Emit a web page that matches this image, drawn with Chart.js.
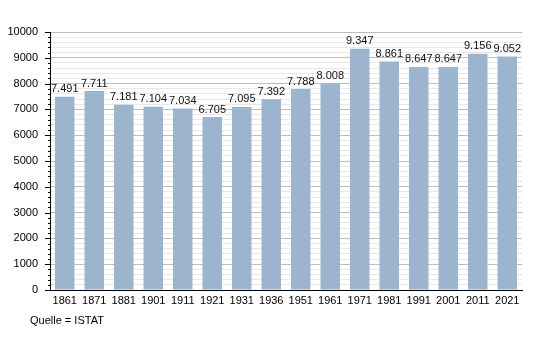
<!DOCTYPE html>
<html>
<head>
<meta charset="utf-8">
<script src="https://cdn.jsdelivr.net/npm/chart.js@4/dist/chart.umd.min.js"></script>
<style>
  html, body { margin: 0; padding: 0; background: #fff; }
  #wrap { position: relative; width: 550px; height: 340px; }
  #source { position: absolute; left: 30px; top: 314px; font: 11px "Liberation Sans", Arial, sans-serif; color: #000; }
</style>
</head>
<body>
<div id="wrap">
  <canvas id="c" width="550" height="340"></canvas>
  <div id="source">Quelle = ISTAT</div>
</div>
<script>
// Census years and resident population
const years = ['1861', '1871', '1881', '1901', '1911', '1921', '1931', '1936', '1951', '1961', '1971', '1981', '1991', '2001', '2011', '2021'];
const population = [7491, 7711, 7181, 7104, 7034, 6705, 7095, 7392, 7788, 8008, 9347, 8861, 8647, 8647, 9156, 9052];
const yMax = 10000;
const majorStep = 1000;
const minorStep = 200;

const FONT = '"Liberation Sans", Arial, sans-serif';

const fmt = v => v.toLocaleString('de-DE');

// value labels above each bar
const valueLabels = {
  id: 'valueLabels',
  afterDatasetsDraw(chart) {
    const ctx = chart.ctx;
    const meta = chart.getDatasetMeta(0);
    ctx.save();
    ctx.font = '11px ' + FONT;
    ctx.fillStyle = '#111';
    ctx.textAlign = 'center';
    ctx.textBaseline = 'bottom';
    meta.data.forEach((bar, i) => {
      ctx.fillText(fmt(chart.data.datasets[0].data[i]), bar.x, bar.y - 2);
    });
    ctx.restore();
  }
};

// long tick marks for major steps, short ones for minor steps
const yTickMarks = {
  id: 'yTickMarks',
  afterDraw(chart) {
    const ctx = chart.ctx;
    const y = chart.scales.y;
    const x0 = chart.chartArea.left;
    ctx.save();
    ctx.strokeStyle = '#000';
    ctx.lineWidth = 1;
    y.ticks.forEach(t => {
      const py = Math.round(y.getPixelForValue(t.value)) + 0.5;
      const len = t.value % majorStep === 0 ? 5 : 2;
      ctx.beginPath();
      ctx.moveTo(x0 - len, py);
      ctx.lineTo(x0, py);
      ctx.stroke();
    });
    ctx.restore();
  }
};

new Chart(document.getElementById('c'), {
  type: 'bar',
  data: {
    labels: years,
    datasets: [{
      data: population,
      backgroundColor: '#9cb4cd',
      borderWidth: 0,
      barPercentage: 0.66,
      categoryPercentage: 1
    }]
  },
  options: {
    responsive: false,
    animation: false,
    events: [],
    layout: { padding: { left: 0, right: 28, top: 32, bottom: 0 } },
    plugins: {
      legend: { display: false },
      tooltip: { enabled: false }
    },
    scales: {
      x: {
        grid: { display: false, drawTicks: false },
        border: { color: '#000', width: 1 },
        ticks: { color: '#000', font: { family: FONT, size: 11 }, padding: 4, maxRotation: 0, autoSkip: false },
        afterFit(scale) { scale.height = 50; }
      },
      y: {
        min: 0,
        max: yMax,
        grid: {
          drawTicks: false,
          color: c => (c.tick && c.tick.value % majorStep === 0) ? '#bdbdbd' : '#e8e8e8',
          lineWidth: 1
        },
        border: { color: '#000', width: 1 },
        ticks: {
          stepSize: minorStep,
          autoSkip: false,
          color: '#000',
          font: { family: FONT, size: 11 },
          padding: 12,
          callback: v => (v % majorStep === 0 ? String(v) : '')
        },
        afterFit(scale) { scale.width = 50; }
      }
    }
  },
  plugins: [valueLabels, yTickMarks]
});
</script>
</body>
</html>
